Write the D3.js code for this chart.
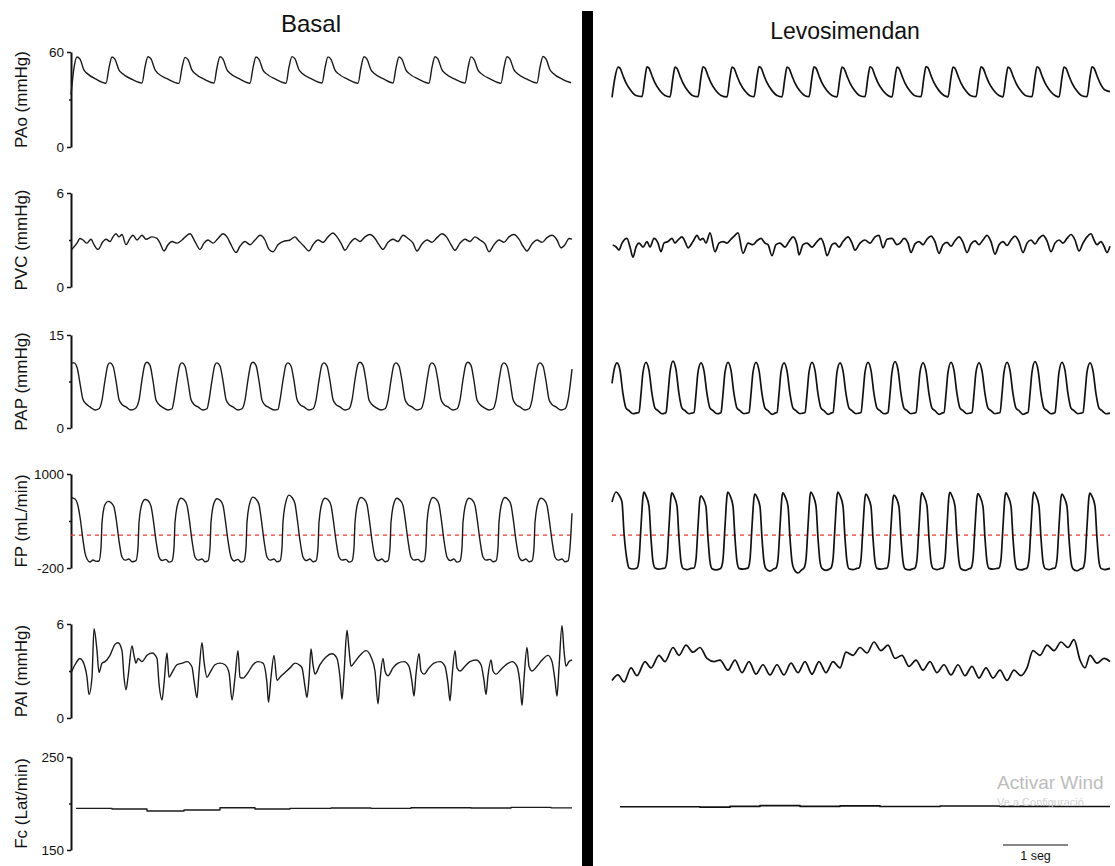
<!DOCTYPE html>
<html>
<head>
<meta charset="utf-8">
<script src="https://cdn.jsdelivr.net/npm/d3@7"></script>
<style>
body{margin:0;background:#fff;}
text{font-family:"Liberation Sans",Arial,sans-serif;fill:#111;}
</style>
</head>
<body>
<div class="canvas"></div>
<script>
// samples are at 65 Hz (65 samples = 1 seg), values in each channel's unit

const channels = ['PAo','PVC','PAP','FP','PAI','Fc'];
const yLabels = ['PAo (mmHg)','PVC (mmHg)','PAP (mmHg)','FP (mL/min)','PAI (mmHg)','Fc (Lat/min)'];
const yDomains = [[0,60],[0,6],[0,15],[-200,1000],[0,6],[150,250]];
const columnTitles = ['Basal','Levosimendan'];
const fpReference = 220;
const samplesPerSecond = 65;

const paoBasal = [[0,33],[3,50],[6,56.8],[9,55.5],[13,48.5],[16,46.5],[25,42.8],
[35,40.3],[38,50],[41,56.8],[44,55.3],[48,48.6],[51,46.6],[61,42.7],
[71,40.4],[74,50.5],[77,57],[80,55.6],[84,48.8],[87,46.5],[97,42.8],
[108,40.2],[111,50],[114,56.6],[117,55.2],[121,48.5],[124,46.4],[134,42.6],
[143,40.4],[146,50.2],[149,57],[152,55.5],[156,48.7],[159,46.6],[169,42.8],
[179,40.3],[182,50],[185,56.8],[188,55.4],[192,48.6],[195,46.5],[205,42.7],
[215,40.3],[218,50.4],[221,57.1],[224,55.6],[228,48.8],[231,46.6],[241,42.8],
[251,40.4],[254,50],[257,56.9],[260,55.4],[264,48.6],[267,46.5],[277,42.7],
[287,40.3],[290,50.2],[293,57],[296,55.5],[300,48.7],[303,46.6],[313,42.8],
[322,40.4],[325,50],[328,56.8],[331,55.3],[335,48.6],[338,46.5],[348,42.7],
[358,40.3],[361,50.3],[364,57],[367,55.5],[371,48.7],[374,46.6],[384,42.8],
[394,40.4],[397,50],[400,56.9],[403,55.4],[407,48.6],[410,46.5],[420,42.7],
[430,40.3],[433,50.2],[436,57],[439,55.5],[443,48.7],[446,46.6],[456,42.8],
[466,40.4],[469,50.4],[472,57.2],[475,55.6],[479,48.8],[482,46.6],[492,42.6],[500,40.6]];

const paoLevo = [[0,31.3],[3,44],[6,50.5],[8,49.8],[11,45],[14,40.5],[19,35.5],[24,32.5],
[30,31.8],[33,44],[35,50.6],[37,49.8],[40,45],[43,40.5],[48,35.5],[53,32.5],
[58,31.7],[61,44],[63,50.4],[65,49.6],[68,44.8],[71,40.4],[76,35.4],[81,32.4],
[86,31.8],[89,44.2],[91,50.7],[93,49.9],[96,45],[99,40.5],[104,35.5],[109,32.5],
[115,31.6],[118,44],[120,50.5],[122,49.7],[125,44.9],[128,40.4],[133,35.4],[138,32.4],
[142,31.8],[145,44.3],[147,50.8],[149,50],[152,45.1],[155,40.6],[160,35.6],[165,32.5],
[170,31.7],[173,44],[175,50.5],[177,49.7],[180,44.9],[183,40.4],[188,35.4],[193,32.4],
[197,31.8],[200,44.1],[202,50.6],[204,49.8],[207,45],[210,40.5],[215,35.5],[220,32.5],
[225,31.7],[228,44],[230,50.4],[232,49.6],[235,44.8],[238,40.4],[243,35.4],[248,32.4],
[253,31.8],[256,44.2],[258,50.7],[260,49.9],[263,45],[266,40.5],[271,35.5],[276,32.5],
[280,31.6],[283,44],[285,50.5],[287,49.7],[290,44.9],[293,40.4],[298,35.4],[303,32.4],
[309,31.8],[312,44.3],[314,50.8],[316,50],[319,45.1],[322,40.6],[327,35.6],[332,32.5],
[336,31.7],[339,44],[341,50.5],[343,49.7],[346,44.9],[349,40.4],[354,35.4],[359,32.4],
[364,31.8],[367,44.1],[369,50.6],[371,49.8],[374,45],[377,40.5],[382,35.5],[387,32.5],
[391,31.7],[394,44],[396,50.4],[398,49.6],[401,44.8],[404,40.4],[409,35.4],[414,32.4],
[420,31.8],[423,44.2],[425,50.7],[427,49.9],[430,45],[433,40.5],[438,35.5],[443,32.5],
[447,31.6],[450,44],[452,50.5],[454,49.7],[457,44.9],[460,40.4],[465,35.4],[470,32.4],
[475,31.8],[478,44.2],[480,50.6],[482,49.8],[485,45],[488,40.5],[493,36],[498,35]];

const pvcBasal = [[0.7,2.4],[6,2.8],[9,3.1],[12,3.0],[16,2.8],[20,3.05],[23,2.7],[27,2.4],[32,2.9],[35,3.05],
[39,2.9],[42,3.2],[45,3.4],[48,3.2],[51,3.35],[55,2.7],[59,3.1],[62,3.3],[66,3.0],[71,3.3],[75,3.05],[81,3.2],
[86,3.1],[89,2.8],[93,2.3],[97,2.7],[101,2.9],[106,2.8],[111,3.0],[116,3.3],[119,3.4],[124,2.9],[129,2.4],
[133,2.8],[137,3.0],[142,2.8],[147,3.1],[152,3.4],[156,3.2],[160,2.7],[165,2.2],[169,2.6],[174,2.9],[179,2.7],
[184,3.0],[189,3.3],[194,3.0],[198,2.4],[202,2.25],[207,2.7],[212,2.9],[219,3.0],[224,3.2],[227,3.0],
[233,2.6],[238,2.3],[242,2.7],[247,3.0],[252,2.85],[257,3.2],[262,3.45],[266,3.2],[270,2.8],[274,2.35],
[279,2.8],[284,3.1],[289,2.9],[294,3.2],[299,3.35],[304,3.1],[308,2.7],[312,2.4],[317,2.85],[322,3.05],
[327,2.9],[332,3.3],[337,3.1],[342,2.8],[346,2.3],[351,2.75],[356,3.0],[361,2.85],[366,3.15],[371,3.4],
[376,3.15],[380,2.7],[384,2.35],[389,2.8],[394,3.05],[399,2.9],[404,3.2],[409,3.0],[414,2.75],[418,2.25],
[423,2.7],[428,3.0],[433,2.85],[438,3.2],[443,3.35],[448,3.05],[452,2.6],[456,2.3],[461,2.75],[466,3.0],
[471,2.85],[476,3.15],[481,3.3],[486,3.0],[490,2.5],[494,2.7],[498,3.1],[501,3.05]];

const pvcLevo = [[0.7,2.68],[4,2.57],[7,2.36],[10,2.8],[15,3.1],[18,2.55],[21,1.9],[24,2.55],[27,2.8],[31,2.55],
[35,2.9],[38,2.55],[42,3.1],[46,2.8],[49,2.25],[52,2.8],[56,2.9],[60,3.1],[63,2.8],[66,3.0],[70,3.2],[73,2.9],
[76,2.5],[81,2.9],[85,3.3],[88,3.0],[91,3.1],[94,2.8],[98,3.45],[103,2.25],[107,2.8],[111,2.9],[115,2.8],
[119,3.05],[123,3.3],[126,3.45],[131,2.15],[136,2.8],[141,2.7],[145,2.95],[149,3.1],[153,2.8],[156,2.7],
[160,2.0],[164,2.7],[168,2.8],[173,2.55],[177,2.9],[181,3.2],[185,2.7],[187,2.05],[191,2.7],[195,2.8],
[200,2.55],[205,2.9],[209,3.1],[212,2.7],[215,2.0],[220,2.7],[223,2.8],[227,2.55],[231,2.9],[236,3.2],
[240,2.8],[243,2.35],[248,2.8],[253,3.0],[258,2.8],[263,3.2],[267,3.3],[271,2.5],[275,3.05],[280,3.1],
[285,2.7],[288,2.8],[292,3.1],[296,2.8],[299,2.2],[303,2.75],[307,2.9],[311,2.7],[315,3.05],[319,3.25],
[323,2.9],[327,2.15],[331,2.7],[335,2.85],[339,2.6],[343,2.95],[347,3.2],[351,2.85],[355,2.2],[359,2.75],
[363,2.95],[367,2.7],[371,3.0],[375,3.3],[379,2.9],[383,2.1],[387,2.7],[391,2.9],[395,2.65],[399,3.0],
[403,3.25],[407,2.9],[411,2.2],[415,2.8],[419,3.0],[423,2.75],[427,3.1],[431,3.3],[435,2.95],[439,2.25],
[443,2.8],[447,3.0],[451,2.8],[455,3.1],[459,3.35],[463,3.0],[467,2.3],[471,2.8],[475,3.2],[479,3.4],
[482,3.0],[485,2.7],[489,2.9],[492,2.6],[495,2.2],[498,2.6]];

const papBasal = [[0,10.5],[3,10.5],[6,9.8],[9,7.2],[12,4.6],[15,3.9],[19,3.4],[24,2.9],[28,3.1],
[31,4.5],[34,7.7],[37,10.2],[39,10.5],[42,10.0],[45,7.6],[48,4.6],[51,3.8],[55,3.4],[60,2.9],[64,3.1],
[68,4.5],[71,7.8],[74,10.3],[76,10.6],[79,10.1],[82,7.6],[85,4.5],[88,3.8],[92,3.3],[97,2.9],[101,3.1],
[103,4.5],[106,7.7],[109,10.2],[111,10.5],[114,10.0],[117,7.5],[120,4.6],[123,3.8],[127,3.4],[132,2.9],[136,3.1],
[138,4.5],[141,7.7],[144,10.2],[146,10.5],[149,10.0],[152,7.6],[155,4.6],[158,3.8],[162,3.4],[167,2.9],[171,3.1],
[174,4.5],[177,7.8],[180,10.3],[182,10.6],[185,10.1],[188,7.6],[191,4.5],[194,3.7],[198,3.3],[203,2.9],[207,3.0],
[209,4.5],[212,7.7],[215,10.2],[217,10.5],[220,10.0],[223,7.6],[226,4.6],[229,3.8],[233,3.4],[238,2.9],[242,3.1],
[245,4.5],[248,7.7],[251,10.2],[253,10.5],[256,10.0],[259,7.6],[262,4.6],[265,3.8],[269,3.4],[274,2.9],[278,3.1],
[281,4.5],[284,7.8],[287,10.3],[289,10.6],[292,10.1],[295,7.6],[298,4.5],[301,3.8],[305,3.3],[310,2.9],[314,3.1],
[317,4.5],[320,7.7],[323,10.2],[325,10.5],[328,10.0],[331,7.6],[334,4.6],[337,3.8],[341,3.4],[346,2.9],[350,3.1],
[353,4.5],[356,7.7],[359,10.2],[361,10.5],[364,10.0],[367,7.6],[370,4.6],[373,3.8],[377,3.4],[382,2.9],[386,3.1],
[389,4.5],[392,7.8],[395,10.3],[397,10.6],[400,10.1],[403,7.6],[406,4.5],[409,3.8],[413,3.3],[418,2.9],[422,3.1],
[425,4.5],[428,7.7],[431,10.2],[433,10.5],[436,10.0],[439,7.6],[442,4.6],[445,3.8],[449,3.4],[454,2.9],[458,3.1],
[461,4.5],[464,7.7],[467,10.2],[469,10.5],[472,10.0],[475,7.6],[478,4.6],[481,3.8],[485,3.4],[490,2.9],[494,3.1],
[497,4.5],[501,9.5]];

const papLevo = [[0,7.2],[2,9.3],[5,10.5],[8,9.3],[11,5.5],[14,3.2],[17,2.8],[21,2.3],[24,2.4],
[27,2.5],[29,5.5],[31,9.0],[34,10.6],[37,9.3],[40,5.5],[43,3.2],[46,2.8],[50,2.3],[53,2.4],
[54,2.5],[56,5.5],[58,9.0],[61,10.8],[64,9.4],[67,5.5],[70,3.2],[73,2.8],[77,2.3],[80,2.4],
[82,2.5],[84,5.5],[86,9.0],[89,10.5],[92,9.2],[95,5.5],[98,3.2],[101,2.8],[105,2.3],[108,2.4],
[109,2.5],[111,5.5],[113,9.0],[116,10.6],[119,9.3],[122,5.5],[125,3.2],[128,2.8],[132,2.3],[135,2.4],
[137,2.5],[139,5.5],[141,9.0],[144,10.6],[147,9.3],[150,5.5],[153,3.2],[156,2.8],[160,2.2],[163,2.4],
[165,2.5],[167,5.5],[169,9.0],[172,10.5],[175,9.2],[178,5.5],[181,3.2],[184,2.8],[188,2.3],[191,2.4],
[193,2.5],[195,5.5],[197,9.0],[200,10.6],[203,9.3],[206,5.5],[209,3.2],[212,2.8],[216,2.2],[219,2.4],
[221,2.5],[223,5.5],[225,9.0],[228,10.5],[231,9.2],[234,5.5],[237,3.2],[240,2.8],[244,2.3],[247,2.4],
[249,2.5],[251,5.5],[253,9.0],[256,10.6],[259,9.3],[262,5.5],[265,3.2],[268,2.8],[272,2.3],[275,2.4],
[276,2.5],[278,5.5],[280,9.0],[283,10.7],[286,9.4],[289,5.5],[292,3.2],[295,2.8],[299,2.3],[302,2.4],
[304,2.5],[306,5.5],[308,9.0],[311,10.5],[314,9.2],[317,5.5],[320,3.2],[323,2.8],[327,2.2],[330,2.4],
[332,2.5],[334,5.5],[336,9.0],[339,10.6],[342,9.3],[345,5.5],[348,3.2],[351,2.8],[355,2.3],[358,2.4],
[360,2.5],[362,5.5],[364,9.0],[367,10.5],[370,9.2],[373,5.5],[376,3.2],[379,2.8],[383,2.3],[386,2.4],
[388,2.5],[390,5.5],[392,9.0],[395,10.6],[398,9.3],[401,5.5],[404,3.2],[407,2.8],[411,2.2],[414,2.4],
[416,2.5],[418,5.5],[420,9.0],[423,10.7],[426,9.4],[429,5.5],[432,3.2],[435,2.8],[439,2.3],[442,2.4],
[443,2.5],[445,5.5],[447,9.0],[450,10.6],[453,9.3],[456,5.5],[459,3.2],[462,2.8],[466,2.3],[469,2.4],
[471,2.5],[473,5.5],[475,9.0],[478,10.5],[481,9.2],[484,5.5],[487,3.2],[490,2.8],[494,2.3],[498,2.4]];

const fpBasal = [[0,698],[4,681],[7,592],[9,451],[12,157],[14,-8],[16,-85],[19,-123],[22,-98],[25,-115],
[28,-110],[30,60],[31,375],[34,610],[37,650],[40,635],[43,580],[45,440],[48,150],[51,-60],[54,-100],[58,-85],[61,-120],
[65,-105],[67,60],[68,380],[71,620],[74,675],[77,660],[80,590],[82,440],[85,150],[88,-60],[91,-105],[95,-90],[98,-125],
[101,-110],[103,60],[104,380],[107,630],[110,690],[113,670],[116,600],[118,450],[121,150],[124,-60],[127,-100],[131,-85],[134,-120],
[137,-110],[139,60],[140,385],[143,630],[146,685],[149,665],[152,600],[154,440],[157,150],[160,-60],[163,-110],[167,-90],[170,-125],
[173,-110],[175,60],[176,385],[179,640],[182,705],[185,680],[188,610],[190,450],[193,150],[196,-60],[199,-100],[203,-85],[206,-120],
[209,-110],[211,60],[212,390],[215,650],[218,730],[221,700],[224,620],[226,450],[229,150],[232,-60],[235,-105],[239,-85],[242,-120],
[245,-110],[247,60],[248,380],[251,630],[254,690],[257,670],[260,600],[262,440],[265,150],[268,-60],[271,-100],[275,-90],[278,-125],
[281,-110],[283,60],[284,380],[287,640],[290,700],[293,680],[296,610],[298,450],[301,150],[304,-60],[307,-105],[311,-85],[314,-120],
[317,-110],[319,60],[320,380],[323,630],[326,690],[329,665],[332,600],[334,440],[337,150],[340,-60],[343,-100],[347,-90],[350,-120],
[353,-110],[355,60],[356,385],[359,640],[362,700],[365,680],[368,610],[370,450],[373,150],[376,-60],[379,-105],[383,-85],[386,-125],
[389,-110],[391,60],[392,380],[395,630],[398,690],[401,670],[404,600],[406,440],[409,150],[412,-60],[415,-100],[419,-90],[422,-120],
[425,-110],[427,60],[428,385],[431,640],[434,700],[437,675],[440,605],[442,445],[445,150],[448,-60],[451,-105],[455,-85],[458,-120],
[461,-110],[463,60],[464,380],[467,630],[470,690],[473,670],[476,600],[478,440],[481,150],[484,-60],[487,-100],[491,-85],[494,-120],
[497,-110],[499,60],[501,500]];

const fpLevo = [[0,643],[4,770],[7,732],[10,643],[12,247],[15,-98],[17,-200],[21,-213],
[25,-200],[27,-90],[29,330],[31,710],[32,770],[34,720],[37,590],[39,180],[41,-120],[43,-200],[47,-215],[51,-205],
[53,-200],[55,-90],[57,330],[59,710],[60,758],[62,715],[65,590],[67,180],[69,-120],[71,-205],[75,-220],[79,-205],
[82,-200],[84,-90],[86,330],[88,690],[89,720],[91,690],[94,580],[96,180],[98,-120],[100,-210],[104,-225],[108,-210],
[109,-200],[111,-90],[113,330],[115,720],[116,770],[118,725],[121,590],[123,180],[125,-120],[127,-205],[131,-215],[135,-205],
[136,-200],[138,-90],[140,330],[142,700],[143,745],[145,705],[148,585],[150,180],[152,-120],[154,-210],[158,-240],[162,-210],
[164,-200],[166,-90],[168,330],[170,710],[171,758],[173,715],[176,590],[178,180],[180,-120],[182,-215],[186,-264],[190,-220],
[192,-200],[194,-90],[196,330],[198,720],[199,770],[201,725],[204,590],[206,180],[208,-120],[210,-205],[214,-230],[218,-210],
[219,-200],[221,-90],[223,330],[225,720],[226,770],[228,725],[231,590],[233,180],[235,-120],[237,-210],[241,-220],[245,-205],
[247,-200],[249,-90],[251,330],[253,700],[254,745],[256,705],[259,585],[261,180],[263,-120],[265,-205],[269,-215],[273,-205],
[275,-200],[277,-90],[279,330],[281,690],[282,732],[284,700],[287,580],[289,180],[291,-120],[293,-210],[297,-225],[301,-210],
[303,-200],[305,-90],[307,330],[309,710],[310,760],[312,715],[315,590],[317,180],[319,-120],[321,-205],[325,-220],[329,-205],
[331,-200],[333,-90],[335,330],[337,720],[338,765],[340,720],[343,590],[345,180],[347,-120],[349,-210],[353,-230],[357,-210],
[359,-200],[361,-90],[363,330],[365,700],[366,750],[368,710],[371,585],[373,180],[375,-120],[377,-205],[381,-215],[385,-205],
[387,-200],[389,-90],[391,330],[393,715],[394,760],[396,715],[399,590],[401,180],[403,-120],[405,-210],[409,-225],[413,-210],
[415,-200],[417,-90],[419,330],[421,720],[422,770],[424,725],[427,590],[429,180],[431,-120],[433,-205],[437,-220],[441,-205],
[443,-200],[445,-90],[447,330],[449,700],[450,745],[452,705],[455,585],[457,180],[459,-120],[461,-210],[465,-235],[469,-210],
[471,-200],[473,-90],[475,330],[477,710],[478,755],[480,715],[483,590],[485,180],[487,-120],[489,-205],[493,-220],[498,-205]];

const paiBasal = [[0,2.87],[4,3.4],[9,3.8],[12,3.6],[16,2.6],[18,1.5],[21,2.6],[23,5.7],[26,4.3],[28,2.9],
[31,3.5],[34,3.6],[39,4.0],[44,4.7],[47,4.8],[51,4.3],[53,2.6],[55,1.8],[57,2.6],[61,4.6],[63,4.0],[65,3.5],
[67,3.8],[71,3.6],[76,4.0],[81,4.15],[86,3.8],[88,2.2],[91,1.15],[93,2.2],[96,4.15],[98,2.6],[101,2.9],
[106,3.4],[111,3.5],[116,3.6],[121,3.25],[123,2.4],[126,1.3],[128,2.9],[131,4.8],[133,3.6],[136,2.6],
[139,2.9],[144,3.4],[149,3.5],[154,3.4],[158,2.9],[161,1.15],[164,2.6],[167,4.3],[169,2.6],[172,2.55],
[177,2.9],[182,3.4],[187,3.6],[192,3.5],[196,2.2],[197.5,1.0],[200,2.6],[203,4.0],[206,2.4],[209,2.6],
[214,2.9],[219,3.2],[224,3.5],[228,3.4],[231,3.2],[234,2.0],[236,1.3],[238,2.5],[240,4.4],[242,3.4],
[244,2.8],[249,3.4],[255,3.9],[261,4.1],[266,3.8],[269,2.6],[271,1.2],[273,2.8],[276,5.6],[278,4.4],
[280,3.3],[284,3.6],[289,4.0],[295,4.3],[300,3.9],[304,3.0],[307,0.9],[309,2.4],[312,3.8],[314,3.0],
[317,2.7],[322,3.2],[327,3.5],[333,3.6],[338,3.3],[341,2.3],[343,1.4],[345,2.8],[348,4.1],[350,3.0],
[353,2.8],[358,3.2],[363,3.5],[369,3.6],[374,3.3],[377,2.2],[379,1.1],[381,2.6],[384,4.3],[386,3.2],
[389,3.0],[394,3.3],[399,3.6],[405,3.7],[410,3.4],[413,2.4],[415,1.5],[417,2.7],[420,3.7],[422,3.0],
[425,2.8],[430,3.1],[435,3.4],[441,3.6],[446,3.3],[449,2.2],[451,0.8],[453,2.5],[456,4.5],[458,3.3],
[461,3.0],[466,3.3],[471,3.7],[477,4.0],[481,3.6],[484,2.4],[486,1.4],[488,3.2],[491,5.9],[493,4.3],
[495,3.3],[498,3.6],[501,3.7]];

const paiLevo = [[0,2.4],[6,2.75],[12,2.3],[19,3.2],[25,2.7],[33,3.6],[39,3.2],[47,4.0],[53,3.6],[61,4.5],
[67,4.0],[74,4.65],[81,4.2],[88,4.5],[95,3.8],[102,3.6],[108,3.7],[116,3.05],[123,3.7],[130,2.9],[137,3.6],
[144,2.8],[151,3.4],[158,2.75],[165,3.4],[172,2.75],[179,3.5],[186,2.9],[193,3.6],[200,2.8],[207,3.6],
[214,2.9],[221,3.6],[228,3.2],[234,4.2],[241,4.0],[248,4.5],[255,4.15],[262,4.85],[269,4.3],[276,4.65],
[283,3.8],[290,4.0],[297,3.3],[304,3.7],[311,3.05],[318,3.6],[325,2.9],[332,3.4],[339,2.75],[346,3.4],
[353,2.7],[360,3.3],[367,2.55],[374,3.2],[381,2.55],[388,3.05],[395,2.4],[402,3.05],[409,2.7],[415,3.2],
[421,4.3],[428,4.0],[435,4.65],[442,4.3],[449,4.85],[456,4.5],[462,5.0],[468,3.7],[473,3.2],[478,4.0],
[485,3.5],[492,3.8],[498,3.6]];

const fcBasal = [[5,194.8],[41,194.1],[76,191.9],[113,193],[149,195.5],[184,194.1],[219,194.8],
[260,195.2],[300,194.8],[340,195.5],[400,195.1],[440,195.8],[480,195.3],[501,195.3]];

const fcLevo = [[8,196.5],[88,196],[118,197],[148,197.8],[188,197],[228,197.5],[268,196.8],
[328,197.3],[388,197],[448,196.8],[498,196.8]];

const basalSeries = [paoBasal, pvcBasal, papBasal, fpBasal, paiBasal, fcBasal];
const levoSeries = [paoLevo, pvcLevo, papLevo, fpLevo, paiLevo, fcLevo];

// layout
const width = 1115, height = 866;
const rowTop = [52, 193, 335, 474, 624, 757];
const rowBottom = [147, 287, 428, 568, 718, 850];

const svg = d3.select('.canvas')
.append('svg')
.attr('width', width)
.attr('height', height);

const xBasal = d3.scaleLinear().domain([0, 501]).range([71, 572]);
const xLevo = d3.scaleLinear().domain([0, 498]).range([612, 1110]);

// column titles
svg.append('text').attr('x', 311).attr('y', 32).attr('text-anchor', 'middle')
.style('font-size', '24px').text(columnTitles[0]);
svg.append('text').attr('x', 845).attr('y', 39).attr('text-anchor', 'middle')
.style('font-size', '23px').text(columnTitles[1]);

// black separator
svg.append('rect').attr('x', 582).attr('y', 11).attr('width', 11).attr('height', height - 11).attr('fill', '#000');

channels.forEach((ch, i) => {
    const y = d3.scaleLinear().domain(yDomains[i]).range([rowBottom[i], rowTop[i]]);
    const mid = (yDomains[i][0] + yDomains[i][1]) / 2;

    const axis = d3.axisLeft(y)
    .tickValues([yDomains[i][0], mid, yDomains[i][1]])
    .tickSize(4)
    .tickSizeOuter(0)
    .tickPadding(3)
    .tickFormat(d => d === mid ? '' : d);

    const g = svg.append('g')
    .attr('class', 'y-axis')
    .attr('transform', `translate(71,0)`)
    .call(axis);
    g.select('.domain').attr('stroke', '#111').attr('stroke-width', 2);
    g.selectAll('.tick line').attr('stroke', '#111').attr('stroke-width', 1.5)
    .filter(d => d === mid).attr('x2', -2);
    g.selectAll('.tick text').style('font-size', '13.5px').style('font-family', '"Liberation Sans",Arial,sans-serif').attr('fill', '#111');

    // rotated label
    svg.append('text')
    .attr('transform', `translate(27,${(rowTop[i] + rowBottom[i]) / 2}) rotate(-90)`)
    .attr('text-anchor', 'middle')
    .style('font-size', '17px')
    .text(yLabels[i]);

    if (ch === 'FP') {
        [xBasal, xLevo].forEach(x => {
            svg.append('line')
            .attr('x1', x.range()[0]).attr('x2', x.range()[1])
            .attr('y1', y(fpReference)).attr('y2', y(fpReference))
            .attr('stroke', '#f2382c').attr('stroke-width', 1.3)
            .attr('stroke-dasharray', '4,4');
        });
    }

    const curve = ch === 'Fc' ? d3.curveStepAfter : d3.curveMonotoneX;

    const lineB = d3.line().x(d => xBasal(d[0])).y(d => y(d[1])).curve(curve);
    const lineL = d3.line().x(d => xLevo(d[0])).y(d => y(d[1])).curve(curve);

    svg.append('path').datum(basalSeries[i])
    .attr('fill', 'none').attr('stroke', '#1a1a1a').attr('stroke-width', 1.4)
    .attr('stroke-linejoin', 'round').attr('d', lineB);

    svg.append('path').datum(levoSeries[i])
    .attr('fill', 'none').attr('stroke', '#111').attr('stroke-width', 1.7)
    .attr('stroke-linejoin', 'round').attr('d', lineL);
});

// time scale bar (1 seg)
const barX0 = 1003;
svg.append('line')
.attr('x1', barX0).attr('x2', barX0 + (xLevo(samplesPerSecond) - xLevo(0)))
.attr('y1', 845).attr('y2', 845)
.attr('stroke', '#111').attr('stroke-width', 1.2);
svg.append('text')
.attr('x', barX0 + (xLevo(samplesPerSecond) - xLevo(0)) / 2).attr('y', 860)
.attr('text-anchor', 'middle').style('font-size', '12.5px').text('1 seg');

// windows watermark, cut at the page edge as in the screenshot
svg.append('text').attr('x', 997).attr('y', 789).style('font-size', '19px')
.style('fill', '#bdbdbd').text('Activar Wind');
svg.append('text').attr('x', 997).attr('y', 806).style('font-size', '11px')
.style('fill', '#d2d2d2').text('Ve a Configuració');
</script>
</body>
</html>
